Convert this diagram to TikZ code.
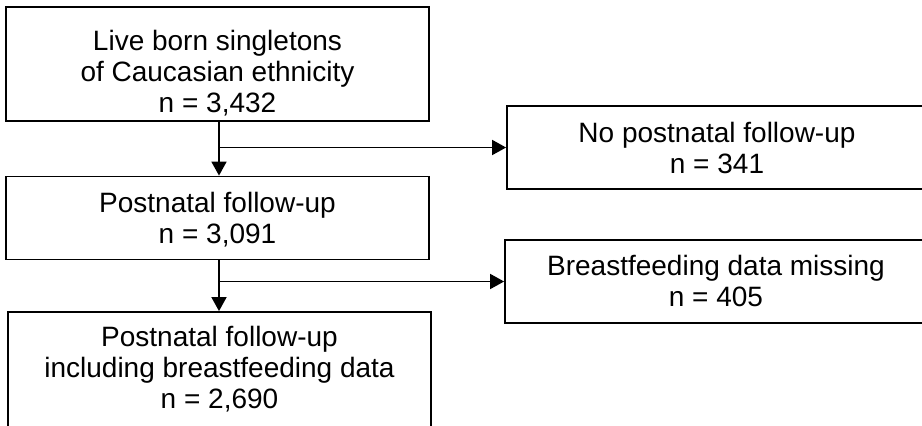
\documentclass[tikz,border=0pt]{standalone}
\usepackage{fontspec}
\setmainfont{Liberation Sans}
\usetikzlibrary{arrows.meta}
\begin{document}
\begin{tikzpicture}[x=1pt,y=1pt,
  box/.style={draw=black, line width=1.8pt, rectangle, inner sep=0pt},
  txt/.style={align=center, inner sep=0pt, font=\fontsize{28}{31}\selectfont},
  arr/.style={draw=black, line width=1.8pt, -{Triangle[length=14pt,width=15pt]}}]
\useasboundingbox (0,0) rectangle (922,-426);
\clip (0,0) rectangle (922,-426);
% boxes
\node[box, minimum width=423pt, minimum height=114pt] (b1) at (217.5,-64) {};
\node[box, minimum width=420pt, minimum height=83pt] (b2) at (717,-147.5) {};
\node[box, minimum width=423pt, minimum height=83pt] (b3) at (217.5,-218) {};
\node[box, minimum width=422pt, minimum height=83pt] (b4) at (716,-281.5) {};
\node[box, minimum width=423pt, minimum height=118pt] (b5) at (219.5,-371) {};
\coordinate (c1) at (219,0);
% texts
\node[txt] (t1) at (217.5,-73) {Live born singletons\\of Caucasian ethnicity\\n = 3,432};
\node[txt] (t2) at (717,-147.5) {No postnatal follow-up\\n = 341};
\node[txt] (t3) at (217.5,-220) {Postnatal follow-up\\n = 3,091};
\node[txt] (t4) at (716,-281) {Breastfeeding data missing\\n = 405};
\node[txt] (t5) at (219.5,-369) {Postnatal follow-up\\including breastfeeding data\\n = 2,690};
% connectors
\draw[arr] (b1.south -| c1) -- (b3.north -| c1);
\draw[arr] (c1 |- b2.west) -- (b2.west);
\draw[arr] (b3.south -| c1) -- (b5.north -| c1);
\draw[arr] (c1 |- b4.west) -- (b4.west);
\end{tikzpicture}
\end{document}
